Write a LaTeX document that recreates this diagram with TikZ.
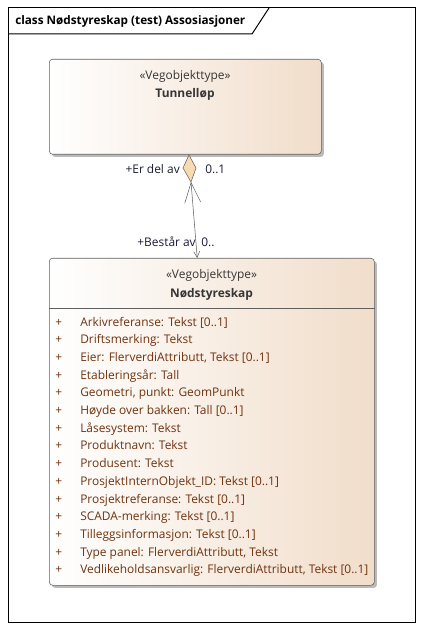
\documentclass[tikz,border=0pt]{standalone}
\usepackage{fontspec}
\setmainfont{Open Sans}
\usetikzlibrary{positioning,arrows.meta,shadows}
\definecolor{classtan}{HTML}{F1DDCA}
\definecolor{attrbrown}{HTML}{70330F}
\definecolor{stereogray}{HTML}{363636}
\definecolor{edgegray}{HTML}{5F5F5F}
\definecolor{aggfill}{HTML}{F8DAB0}
\definecolor{rolenavy}{HTML}{1A1A36}
\newcommand{\umlfont}{\fontsize{8.95}{10}\selectfont}
\tikzset{
    classbox/.style={%
        draw=edgegray, rounded corners=2.5pt,
        left color=white, right color=classtan,
        drop shadow={shadow xshift=2pt, shadow yshift=-2pt, fill=black!45, opacity=.6},
        anchor=north west, inner sep=0pt,
        minimum width=#1
    },
    classbox/.default=204pt,
    stereo/.style={font=\umlfont, text=stereogray, inner sep=0pt, anchor=base},
    classname/.style={font=\umlfont\bfseries, text=stereogray, inner sep=0pt, anchor=base},
    attr/.style={font=\umlfont, text=attrbrown, inner sep=0pt, anchor=base west},
    role/.style={font=\umlfont, text=rolenavy, inner sep=0pt},
    >=Straight Barb
}
\begin{document}
\begin{tikzpicture}[x=0.75pt, y=-0.75pt]
\useasboundingbox (0,0) rectangle (423,630);
% frame
\draw[line width=0.75pt] (8,8) rectangle (415,622);
\draw[line width=0.75pt] (8,34) -- (252,34) -- (269,8);
\node[font=\fontsize{8.8}{10}\selectfont\bfseries, anchor=base west, inner sep=0pt] (title) at (15,25) {class Nødstyreskap (test) Assosiasjoner};

% classes
\node[classbox, minimum height=71.25pt] (T) at (49,59) {};
\node[stereo] (Tst) at (185,80) {«Vegobjekttype»};
\node[classname] (Tnm) at (185,98) {Tunnelløp};

\node[classbox=243.75pt, minimum height=245.25pt] (N) at (49,258) {};
\node[stereo] (Nst) at (211.5,279) {«Vegobjekttype»};
\node[classname] (Nnm) at (211.5,297) {Nødstyreskap};
\draw[edgegray] (N.west |- 0,308) -- (N.east |- 0,308);

\foreach \txt [count=\i] in {Arkivreferanse: Tekst [0..1], Driftsmerking: Tekst,
    {Eier: FlerverdiAttributt, Tekst [0..1]}, Etableringsår: Tall,
    {Geometri, punkt: GeomPunkt}, Høyde over bakken: Tall [0..1], Låsesystem: Tekst,
    Produktnavn: Tekst, Produsent: Tekst, ProsjektInternObjekt\_ID: Tekst [0..1],
    Prosjektreferanse: Tekst [0..1], SCADA-merking: Tekst [0..1],
    Tilleggsinformasjon: Tekst [0..1], {Type panel: FlerverdiAttributt, Tekst},
    {Vedlikeholdsansvarlig: FlerverdiAttributt, Tekst [0..1]}}
{
    \node[attr] (p\i) at (55,{326+(\i-1)*17.71}) {+};
    \node[attr] (a\i) at (80,{326+(\i-1)*17.71}) {\txt};
}

% aggregation
\coordinate (agg) at (191,182);
\draw[edgegray, fill=aggfill] (189,155) -- (183,168) -- (agg) -- (196,168) -- cycle;
\draw[edgegray, {Straight Barb[length=15pt,width=12pt]}-{Straight Barb[length=4.5pt,width=4.5pt]}]
    (agg) -- ([xshift=-10.9pt]N.north);
\node[role, anchor=base east] (rEr) at (180,174) {+Er del av};
\node[role, right=18.75pt of rEr.base east, anchor=base west] (mEr) {0..1};
\node[role, anchor=base east] (rBe) at (196,247) {+Består av};
\node[role, right=3.75pt of rBe.base east, anchor=base west] (mBe) {0..};
\end{tikzpicture}
\end{document}
